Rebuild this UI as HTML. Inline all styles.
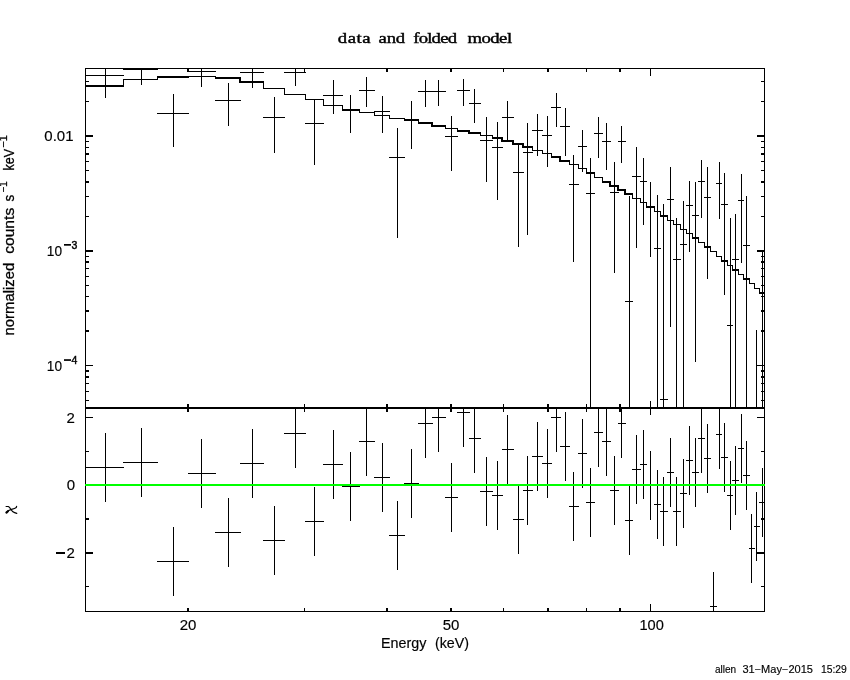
<!DOCTYPE html>
<html><head><meta charset="utf-8"><title>data and folded model</title>
<style>
html,body{margin:0;padding:0;background:#fff;}
body{width:850px;height:680px;overflow:hidden;position:relative;font-family:"Liberation Sans",sans-serif;color:#000;}
svg{position:absolute;left:0;top:0;}
.t{position:absolute;white-space:pre;line-height:1;}
</style></head><body>
<svg width="850" height="680" viewBox="0 0 850 680" shape-rendering="crispEdges"><rect x="85" y="85" width="39" height="2" fill="#000"/><rect x="123" y="79" width="1" height="8" fill="#000"/><rect x="123" y="79" width="35" height="1" fill="#000"/><rect x="157" y="76" width="1" height="4" fill="#000"/><rect x="157" y="76" width="32" height="2" fill="#000"/><rect x="188" y="76" width="1" height="2" fill="#000"/><rect x="188" y="76" width="28" height="1" fill="#000"/><rect x="215" y="76" width="1" height="3" fill="#000"/><rect x="215" y="77" width="26" height="2" fill="#000"/><rect x="239" y="77" width="2" height="6" fill="#000"/><rect x="240" y="81" width="24" height="2" fill="#000"/><rect x="263" y="81" width="1" height="8" fill="#000"/><rect x="263" y="88" width="22" height="1" fill="#000"/><rect x="284" y="88" width="1" height="7" fill="#000"/><rect x="284" y="94" width="22" height="1" fill="#000"/><rect x="305" y="94" width="1" height="6" fill="#000"/><rect x="305" y="99" width="19" height="1" fill="#000"/><rect x="323" y="99" width="1" height="7" fill="#000"/><rect x="323" y="105" width="20" height="1" fill="#000"/><rect x="342" y="105" width="1" height="5" fill="#000"/><rect x="342" y="109" width="18" height="1" fill="#000"/><rect x="359" y="109" width="1" height="4" fill="#000"/><rect x="359" y="112" width="16" height="1" fill="#000"/><rect x="374" y="112" width="1" height="4" fill="#000"/><rect x="374" y="115" width="16" height="1" fill="#000"/><rect x="389" y="115" width="1" height="4" fill="#000"/><rect x="389" y="118" width="16" height="1" fill="#000"/><rect x="404" y="118" width="1" height="3" fill="#000"/><rect x="404" y="120" width="15" height="1" fill="#000"/><rect x="418" y="120" width="1" height="4" fill="#000"/><rect x="418" y="122" width="15" height="2" fill="#000"/><rect x="431" y="122" width="2" height="5" fill="#000"/><rect x="432" y="125" width="14" height="2" fill="#000"/><rect x="445" y="125" width="1" height="4" fill="#000"/><rect x="445" y="128" width="13" height="1" fill="#000"/><rect x="457" y="128" width="1" height="4" fill="#000"/><rect x="457" y="130" width="13" height="2" fill="#000"/><rect x="468" y="130" width="2" height="4" fill="#000"/><rect x="469" y="132" width="12" height="2" fill="#000"/><rect x="480" y="132" width="1" height="4" fill="#000"/><rect x="480" y="135" width="13" height="1" fill="#000"/><rect x="492" y="135" width="1" height="4" fill="#000"/><rect x="492" y="137" width="11" height="2" fill="#000"/><rect x="501" y="137" width="2" height="5" fill="#000"/><rect x="502" y="140" width="12" height="2" fill="#000"/><rect x="512" y="140" width="2" height="5" fill="#000"/><rect x="513" y="143" width="11" height="2" fill="#000"/><rect x="522" y="143" width="2" height="5" fill="#000"/><rect x="523" y="146" width="10" height="2" fill="#000"/><rect x="532" y="146" width="1" height="5" fill="#000"/><rect x="532" y="150" width="11" height="1" fill="#000"/><rect x="542" y="150" width="1" height="4" fill="#000"/><rect x="542" y="153" width="10" height="1" fill="#000"/><rect x="551" y="153" width="1" height="5" fill="#000"/><rect x="551" y="156" width="10" height="2" fill="#000"/><rect x="559" y="156" width="2" height="6" fill="#000"/><rect x="560" y="160" width="10" height="2" fill="#000"/><rect x="569" y="160" width="1" height="5" fill="#000"/><rect x="569" y="164" width="10" height="1" fill="#000"/><rect x="578" y="164" width="1" height="5" fill="#000"/><rect x="578" y="168" width="9" height="1" fill="#000"/><rect x="586" y="168" width="1" height="6" fill="#000"/><rect x="586" y="172" width="9" height="2" fill="#000"/><rect x="594" y="172" width="1" height="6" fill="#000"/><rect x="594" y="177" width="9" height="1" fill="#000"/><rect x="602" y="177" width="1" height="6" fill="#000"/><rect x="602" y="181" width="9" height="2" fill="#000"/><rect x="609" y="181" width="2" height="6" fill="#000"/><rect x="610" y="185" width="9" height="2" fill="#000"/><rect x="617" y="185" width="2" height="6" fill="#000"/><rect x="618" y="189" width="8" height="2" fill="#000"/><rect x="624" y="189" width="2" height="6" fill="#000"/><rect x="625" y="193" width="8" height="2" fill="#000"/><rect x="632" y="193" width="1" height="6" fill="#000"/><rect x="632" y="198" width="9" height="1" fill="#000"/><rect x="640" y="198" width="1" height="5" fill="#000"/><rect x="640" y="202" width="7" height="1" fill="#000"/><rect x="646" y="202" width="1" height="6" fill="#000"/><rect x="646" y="206" width="9" height="2" fill="#000"/><rect x="654" y="206" width="1" height="6" fill="#000"/><rect x="654" y="211" width="7" height="1" fill="#000"/><rect x="660" y="211" width="1" height="6" fill="#000"/><rect x="660" y="215" width="8" height="2" fill="#000"/><rect x="667" y="215" width="1" height="6" fill="#000"/><rect x="667" y="220" width="7" height="1" fill="#000"/><rect x="673" y="220" width="1" height="5" fill="#000"/><rect x="673" y="224" width="8" height="1" fill="#000"/><rect x="680" y="224" width="1" height="6" fill="#000"/><rect x="680" y="229" width="7" height="1" fill="#000"/><rect x="686" y="229" width="1" height="5" fill="#000"/><rect x="686" y="233" width="7" height="1" fill="#000"/><rect x="692" y="233" width="1" height="6" fill="#000"/><rect x="692" y="237" width="7" height="2" fill="#000"/><rect x="698" y="237" width="1" height="6" fill="#000"/><rect x="698" y="242" width="7" height="1" fill="#000"/><rect x="704" y="242" width="1" height="6" fill="#000"/><rect x="704" y="246" width="7" height="2" fill="#000"/><rect x="710" y="246" width="1" height="6" fill="#000"/><rect x="710" y="251" width="7" height="1" fill="#000"/><rect x="716" y="251" width="1" height="6" fill="#000"/><rect x="716" y="256" width="6" height="1" fill="#000"/><rect x="721" y="256" width="1" height="6" fill="#000"/><rect x="721" y="260" width="7" height="2" fill="#000"/><rect x="727" y="260" width="1" height="6" fill="#000"/><rect x="727" y="265" width="6" height="1" fill="#000"/><rect x="732" y="265" width="1" height="6" fill="#000"/><rect x="732" y="269" width="7" height="2" fill="#000"/><rect x="738" y="269" width="1" height="6" fill="#000"/><rect x="738" y="274" width="6" height="1" fill="#000"/><rect x="743" y="274" width="1" height="6" fill="#000"/><rect x="743" y="278" width="7" height="2" fill="#000"/><rect x="749" y="278" width="1" height="6" fill="#000"/><rect x="749" y="283" width="6" height="1" fill="#000"/><rect x="754" y="283" width="1" height="6" fill="#000"/><rect x="754" y="288" width="6" height="1" fill="#000"/><rect x="759" y="288" width="1" height="6" fill="#000"/><rect x="759" y="292" width="6" height="2" fill="#000"/><rect x="85" y="75" width="39" height="1" fill="#000"/><rect x="105" y="68" width="1" height="30" fill="#000"/><rect x="123" y="69" width="35" height="1" fill="#000"/><rect x="141" y="68" width="1" height="17" fill="#000"/><rect x="157" y="113" width="32" height="1" fill="#000"/><rect x="173" y="94" width="1" height="53" fill="#000"/><rect x="188" y="71" width="28" height="1" fill="#000"/><rect x="201" y="68" width="1" height="19" fill="#000"/><rect x="215" y="100" width="26" height="1" fill="#000"/><rect x="228" y="83" width="1" height="43" fill="#000"/><rect x="240" y="72" width="24" height="1" fill="#000"/><rect x="252" y="68" width="1" height="20" fill="#000"/><rect x="263" y="117" width="22" height="1" fill="#000"/><rect x="274" y="97" width="1" height="56" fill="#000"/><rect x="284" y="72" width="22" height="1" fill="#000"/><rect x="295" y="68" width="1" height="18" fill="#000"/><rect x="305" y="123" width="19" height="1" fill="#000"/><rect x="314" y="99" width="1" height="66" fill="#000"/><rect x="323" y="95" width="20" height="1" fill="#000"/><rect x="333" y="80" width="1" height="34" fill="#000"/><rect x="342" y="110" width="18" height="1" fill="#000"/><rect x="350" y="95" width="1" height="38" fill="#000"/><rect x="359" y="90" width="16" height="1" fill="#000"/><rect x="366" y="77" width="1" height="30" fill="#000"/><rect x="374" y="111" width="16" height="1" fill="#000"/><rect x="382" y="96" width="1" height="37" fill="#000"/><rect x="389" y="157" width="16" height="1" fill="#000"/><rect x="397" y="128" width="1" height="110" fill="#000"/><rect x="404" y="119" width="15" height="1" fill="#000"/><rect x="411" y="101" width="1" height="48" fill="#000"/><rect x="418" y="91" width="15" height="1" fill="#000"/><rect x="425" y="80" width="1" height="27" fill="#000"/><rect x="432" y="91" width="14" height="1" fill="#000"/><rect x="438" y="80" width="1" height="26" fill="#000"/><rect x="445" y="136" width="13" height="1" fill="#000"/><rect x="451" y="116" width="1" height="55" fill="#000"/><rect x="457" y="90" width="13" height="1" fill="#000"/><rect x="463" y="79" width="1" height="27" fill="#000"/><rect x="469" y="103" width="12" height="1" fill="#000"/><rect x="474" y="89" width="1" height="34" fill="#000"/><rect x="480" y="140" width="13" height="1" fill="#000"/><rect x="486" y="117" width="1" height="65" fill="#000"/><rect x="492" y="147" width="11" height="1" fill="#000"/><rect x="497" y="122" width="1" height="78" fill="#000"/><rect x="502" y="117" width="12" height="1" fill="#000"/><rect x="507" y="101" width="1" height="40" fill="#000"/><rect x="513" y="172" width="11" height="1" fill="#000"/><rect x="518" y="144" width="1" height="103" fill="#000"/><rect x="523" y="152" width="10" height="1" fill="#000"/><rect x="527" y="123" width="1" height="112" fill="#000"/><rect x="532" y="130" width="11" height="1" fill="#000"/><rect x="537" y="114" width="1" height="42" fill="#000"/><rect x="542" y="135" width="10" height="1" fill="#000"/><rect x="547" y="116" width="1" height="51" fill="#000"/><rect x="551" y="107" width="10" height="1" fill="#000"/><rect x="556" y="93" width="1" height="34" fill="#000"/><rect x="560" y="126" width="10" height="1" fill="#000"/><rect x="565" y="108" width="1" height="48" fill="#000"/><rect x="569" y="184" width="10" height="1" fill="#000"/><rect x="573" y="155" width="1" height="107" fill="#000"/><rect x="578" y="146" width="9" height="1" fill="#000"/><rect x="582" y="130" width="1" height="42" fill="#000"/><rect x="586" y="193" width="9" height="1" fill="#000"/><rect x="590" y="158" width="1" height="249" fill="#000"/><rect x="594" y="133" width="9" height="1" fill="#000"/><rect x="598" y="117" width="1" height="41" fill="#000"/><rect x="602" y="141" width="9" height="1" fill="#000"/><rect x="606" y="123" width="1" height="47" fill="#000"/><rect x="610" y="192" width="9" height="1" fill="#000"/><rect x="614" y="162" width="1" height="111" fill="#000"/><rect x="618" y="141" width="8" height="1" fill="#000"/><rect x="621" y="126" width="1" height="37" fill="#000"/><rect x="625" y="301" width="8" height="1" fill="#000"/><rect x="629" y="196" width="1" height="211" fill="#000"/><rect x="632" y="176" width="9" height="1" fill="#000"/><rect x="636" y="147" width="1" height="101" fill="#000"/><rect x="640" y="181" width="7" height="1" fill="#000"/><rect x="643" y="158" width="1" height="67" fill="#000"/><rect x="646" y="207" width="9" height="1" fill="#000"/><rect x="650" y="182" width="1" height="75" fill="#000"/><rect x="654" y="248" width="7" height="1" fill="#000"/><rect x="657" y="195" width="1" height="212" fill="#000"/><rect x="660" y="399" width="8" height="1" fill="#000"/><rect x="663" y="204" width="1" height="203" fill="#000"/><rect x="667" y="199" width="7" height="1" fill="#000"/><rect x="670" y="167" width="1" height="160" fill="#000"/><rect x="673" y="259" width="8" height="1" fill="#000"/><rect x="676" y="218" width="1" height="189" fill="#000"/><rect x="680" y="244" width="7" height="1" fill="#000"/><rect x="683" y="201" width="1" height="206" fill="#000"/><rect x="686" y="205" width="7" height="1" fill="#000"/><rect x="689" y="181" width="1" height="71" fill="#000"/><rect x="692" y="215" width="7" height="1" fill="#000"/><rect x="695" y="182" width="1" height="180" fill="#000"/><rect x="698" y="181" width="7" height="1" fill="#000"/><rect x="701" y="160" width="1" height="58" fill="#000"/><rect x="704" y="197" width="7" height="1" fill="#000"/><rect x="707" y="167" width="1" height="112" fill="#000"/><rect x="716" y="183" width="6" height="1" fill="#000"/><rect x="719" y="162" width="1" height="57" fill="#000"/><rect x="721" y="204" width="7" height="1" fill="#000"/><rect x="724" y="173" width="1" height="122" fill="#000"/><rect x="727" y="325" width="6" height="1" fill="#000"/><rect x="730" y="218" width="1" height="189" fill="#000"/><rect x="732" y="259" width="7" height="1" fill="#000"/><rect x="735" y="214" width="1" height="193" fill="#000"/><rect x="738" y="200" width="6" height="1" fill="#000"/><rect x="741" y="174" width="1" height="89" fill="#000"/><rect x="743" y="245" width="7" height="1" fill="#000"/><rect x="746" y="196" width="1" height="211" fill="#000"/><rect x="756" y="330" width="1" height="77" fill="#000"/><rect x="762" y="250" width="1" height="157" fill="#000"/><rect x="85" y="467" width="39" height="1" fill="#000"/><rect x="105" y="433" width="1" height="69" fill="#000"/><rect x="123" y="462" width="35" height="1" fill="#000"/><rect x="141" y="428" width="1" height="69" fill="#000"/><rect x="157" y="561" width="32" height="1" fill="#000"/><rect x="173" y="527" width="1" height="69" fill="#000"/><rect x="188" y="473" width="28" height="1" fill="#000"/><rect x="201" y="439" width="1" height="69" fill="#000"/><rect x="215" y="532" width="26" height="1" fill="#000"/><rect x="228" y="498" width="1" height="69" fill="#000"/><rect x="240" y="463" width="24" height="1" fill="#000"/><rect x="252" y="429" width="1" height="69" fill="#000"/><rect x="263" y="540" width="22" height="1" fill="#000"/><rect x="274" y="506" width="1" height="69" fill="#000"/><rect x="284" y="433" width="22" height="1" fill="#000"/><rect x="295" y="409" width="1" height="59" fill="#000"/><rect x="305" y="521" width="19" height="1" fill="#000"/><rect x="314" y="487" width="1" height="69" fill="#000"/><rect x="323" y="464" width="20" height="1" fill="#000"/><rect x="333" y="430" width="1" height="69" fill="#000"/><rect x="342" y="486" width="18" height="1" fill="#000"/><rect x="350" y="452" width="1" height="69" fill="#000"/><rect x="359" y="441" width="16" height="1" fill="#000"/><rect x="366" y="409" width="1" height="67" fill="#000"/><rect x="374" y="477" width="16" height="1" fill="#000"/><rect x="382" y="443" width="1" height="69" fill="#000"/><rect x="389" y="535" width="16" height="1" fill="#000"/><rect x="397" y="501" width="1" height="69" fill="#000"/><rect x="404" y="483" width="15" height="1" fill="#000"/><rect x="411" y="449" width="1" height="69" fill="#000"/><rect x="418" y="423" width="15" height="1" fill="#000"/><rect x="425" y="409" width="1" height="49" fill="#000"/><rect x="432" y="417" width="14" height="1" fill="#000"/><rect x="438" y="409" width="1" height="43" fill="#000"/><rect x="445" y="497" width="13" height="1" fill="#000"/><rect x="451" y="463" width="1" height="69" fill="#000"/><rect x="457" y="412" width="13" height="1" fill="#000"/><rect x="463" y="409" width="1" height="38" fill="#000"/><rect x="469" y="438" width="12" height="1" fill="#000"/><rect x="474" y="409" width="1" height="64" fill="#000"/><rect x="480" y="491" width="13" height="1" fill="#000"/><rect x="486" y="457" width="1" height="69" fill="#000"/><rect x="492" y="495" width="11" height="1" fill="#000"/><rect x="497" y="461" width="1" height="69" fill="#000"/><rect x="502" y="449" width="12" height="1" fill="#000"/><rect x="507" y="415" width="1" height="69" fill="#000"/><rect x="513" y="519" width="11" height="1" fill="#000"/><rect x="518" y="485" width="1" height="69" fill="#000"/><rect x="523" y="490" width="10" height="1" fill="#000"/><rect x="527" y="456" width="1" height="69" fill="#000"/><rect x="532" y="456" width="11" height="1" fill="#000"/><rect x="537" y="422" width="1" height="69" fill="#000"/><rect x="542" y="463" width="10" height="1" fill="#000"/><rect x="547" y="429" width="1" height="69" fill="#000"/><rect x="551" y="417" width="10" height="1" fill="#000"/><rect x="556" y="409" width="1" height="43" fill="#000"/><rect x="560" y="446" width="10" height="1" fill="#000"/><rect x="565" y="412" width="1" height="69" fill="#000"/><rect x="569" y="506" width="10" height="1" fill="#000"/><rect x="573" y="472" width="1" height="69" fill="#000"/><rect x="578" y="453" width="9" height="1" fill="#000"/><rect x="582" y="419" width="1" height="69" fill="#000"/><rect x="586" y="502" width="9" height="1" fill="#000"/><rect x="590" y="468" width="1" height="69" fill="#000"/><rect x="594" y="432" width="9" height="1" fill="#000"/><rect x="598" y="409" width="1" height="58" fill="#000"/><rect x="602" y="441" width="9" height="1" fill="#000"/><rect x="606" y="409" width="1" height="67" fill="#000"/><rect x="610" y="490" width="9" height="1" fill="#000"/><rect x="614" y="456" width="1" height="69" fill="#000"/><rect x="618" y="423" width="8" height="1" fill="#000"/><rect x="621" y="409" width="1" height="49" fill="#000"/><rect x="625" y="520" width="8" height="1" fill="#000"/><rect x="629" y="486" width="1" height="69" fill="#000"/><rect x="632" y="469" width="9" height="1" fill="#000"/><rect x="636" y="435" width="1" height="69" fill="#000"/><rect x="640" y="464" width="7" height="1" fill="#000"/><rect x="643" y="430" width="1" height="69" fill="#000"/><rect x="646" y="485" width="9" height="1" fill="#000"/><rect x="650" y="451" width="1" height="69" fill="#000"/><rect x="654" y="504" width="7" height="1" fill="#000"/><rect x="657" y="470" width="1" height="69" fill="#000"/><rect x="660" y="511" width="8" height="1" fill="#000"/><rect x="663" y="477" width="1" height="69" fill="#000"/><rect x="667" y="472" width="7" height="1" fill="#000"/><rect x="670" y="438" width="1" height="69" fill="#000"/><rect x="673" y="511" width="8" height="1" fill="#000"/><rect x="676" y="477" width="1" height="69" fill="#000"/><rect x="680" y="493" width="7" height="1" fill="#000"/><rect x="683" y="459" width="1" height="69" fill="#000"/><rect x="686" y="460" width="7" height="1" fill="#000"/><rect x="689" y="426" width="1" height="69" fill="#000"/><rect x="692" y="472" width="7" height="1" fill="#000"/><rect x="695" y="438" width="1" height="69" fill="#000"/><rect x="698" y="438" width="7" height="1" fill="#000"/><rect x="701" y="409" width="1" height="64" fill="#000"/><rect x="704" y="458" width="7" height="1" fill="#000"/><rect x="707" y="424" width="1" height="69" fill="#000"/><rect x="710" y="606" width="7" height="1" fill="#000"/><rect x="713" y="572" width="1" height="39" fill="#000"/><rect x="716" y="434" width="6" height="1" fill="#000"/><rect x="719" y="409" width="1" height="60" fill="#000"/><rect x="721" y="457" width="7" height="1" fill="#000"/><rect x="724" y="423" width="1" height="69" fill="#000"/><rect x="727" y="495" width="6" height="1" fill="#000"/><rect x="730" y="461" width="1" height="69" fill="#000"/><rect x="732" y="480" width="7" height="1" fill="#000"/><rect x="735" y="446" width="1" height="69" fill="#000"/><rect x="738" y="448" width="6" height="1" fill="#000"/><rect x="741" y="414" width="1" height="69" fill="#000"/><rect x="743" y="475" width="7" height="1" fill="#000"/><rect x="746" y="441" width="1" height="69" fill="#000"/><rect x="749" y="548" width="6" height="1" fill="#000"/><rect x="751" y="514" width="1" height="69" fill="#000"/><rect x="754" y="526" width="6" height="1" fill="#000"/><rect x="756" y="492" width="1" height="69" fill="#000"/><rect x="759" y="502" width="6" height="1" fill="#000"/><rect x="762" y="468" width="1" height="69" fill="#000"/><rect x="85" y="68" width="680" height="1" fill="#000"/><rect x="85" y="407" width="680" height="2" fill="#000"/><rect x="85" y="611" width="680" height="1" fill="#000"/><rect x="85" y="68" width="1" height="544" fill="#000"/><rect x="764" y="68" width="1" height="544" fill="#000"/><rect x="187" y="68" width="2" height="4" fill="#000"/><rect x="187" y="404" width="2" height="8" fill="#000"/><rect x="187" y="608" width="2" height="4" fill="#000"/><rect x="304" y="68" width="1" height="4" fill="#000"/><rect x="304" y="404" width="1" height="8" fill="#000"/><rect x="304" y="608" width="1" height="4" fill="#000"/><rect x="386" y="68" width="2" height="4" fill="#000"/><rect x="386" y="404" width="2" height="8" fill="#000"/><rect x="386" y="608" width="2" height="4" fill="#000"/><rect x="450" y="68" width="2" height="4" fill="#000"/><rect x="450" y="404" width="2" height="8" fill="#000"/><rect x="450" y="608" width="2" height="4" fill="#000"/><rect x="503" y="68" width="1" height="4" fill="#000"/><rect x="503" y="404" width="1" height="8" fill="#000"/><rect x="503" y="608" width="1" height="4" fill="#000"/><rect x="547" y="68" width="2" height="4" fill="#000"/><rect x="547" y="404" width="2" height="8" fill="#000"/><rect x="547" y="608" width="2" height="4" fill="#000"/><rect x="586" y="68" width="1" height="4" fill="#000"/><rect x="586" y="404" width="1" height="8" fill="#000"/><rect x="586" y="608" width="1" height="4" fill="#000"/><rect x="619" y="68" width="2" height="4" fill="#000"/><rect x="619" y="404" width="2" height="8" fill="#000"/><rect x="619" y="608" width="2" height="4" fill="#000"/><rect x="650" y="68" width="1" height="8" fill="#000"/><rect x="650" y="401" width="1" height="14" fill="#000"/><rect x="650" y="604" width="1" height="8" fill="#000"/><rect x="85" y="81" width="4" height="1" fill="#000"/><rect x="761" y="81" width="4" height="1" fill="#000"/><rect x="85" y="101" width="4" height="1" fill="#000"/><rect x="761" y="101" width="4" height="1" fill="#000"/><rect x="85" y="135" width="8" height="2" fill="#000"/><rect x="757" y="135" width="8" height="2" fill="#000"/><rect x="85" y="141" width="4" height="1" fill="#000"/><rect x="761" y="141" width="4" height="1" fill="#000"/><rect x="85" y="147" width="4" height="1" fill="#000"/><rect x="761" y="147" width="4" height="1" fill="#000"/><rect x="85" y="153" width="4" height="2" fill="#000"/><rect x="761" y="153" width="4" height="2" fill="#000"/><rect x="85" y="161" width="4" height="1" fill="#000"/><rect x="761" y="161" width="4" height="1" fill="#000"/><rect x="85" y="170" width="4" height="1" fill="#000"/><rect x="761" y="170" width="4" height="1" fill="#000"/><rect x="85" y="181" width="4" height="2" fill="#000"/><rect x="761" y="181" width="4" height="2" fill="#000"/><rect x="85" y="196" width="4" height="1" fill="#000"/><rect x="761" y="196" width="4" height="1" fill="#000"/><rect x="85" y="216" width="4" height="1" fill="#000"/><rect x="761" y="216" width="4" height="1" fill="#000"/><rect x="85" y="250" width="8" height="2" fill="#000"/><rect x="757" y="250" width="8" height="2" fill="#000"/><rect x="85" y="256" width="4" height="1" fill="#000"/><rect x="761" y="256" width="4" height="1" fill="#000"/><rect x="85" y="261" width="4" height="2" fill="#000"/><rect x="761" y="261" width="4" height="2" fill="#000"/><rect x="85" y="268" width="4" height="1" fill="#000"/><rect x="761" y="268" width="4" height="1" fill="#000"/><rect x="85" y="276" width="4" height="1" fill="#000"/><rect x="761" y="276" width="4" height="1" fill="#000"/><rect x="85" y="285" width="4" height="1" fill="#000"/><rect x="761" y="285" width="4" height="1" fill="#000"/><rect x="85" y="296" width="4" height="1" fill="#000"/><rect x="761" y="296" width="4" height="1" fill="#000"/><rect x="85" y="310" width="4" height="2" fill="#000"/><rect x="761" y="310" width="4" height="2" fill="#000"/><rect x="85" y="330" width="4" height="2" fill="#000"/><rect x="761" y="330" width="4" height="2" fill="#000"/><rect x="85" y="365" width="8" height="1" fill="#000"/><rect x="757" y="365" width="8" height="1" fill="#000"/><rect x="85" y="370" width="4" height="2" fill="#000"/><rect x="761" y="370" width="4" height="2" fill="#000"/><rect x="85" y="376" width="4" height="2" fill="#000"/><rect x="761" y="376" width="4" height="2" fill="#000"/><rect x="85" y="383" width="4" height="1" fill="#000"/><rect x="761" y="383" width="4" height="1" fill="#000"/><rect x="85" y="391" width="4" height="1" fill="#000"/><rect x="761" y="391" width="4" height="1" fill="#000"/><rect x="85" y="400" width="4" height="1" fill="#000"/><rect x="761" y="400" width="4" height="1" fill="#000"/><rect x="85" y="417" width="8" height="1" fill="#000"/><rect x="757" y="417" width="8" height="1" fill="#000"/><rect x="85" y="451" width="4" height="1" fill="#000"/><rect x="761" y="451" width="4" height="1" fill="#000"/><rect x="85" y="518" width="4" height="2" fill="#000"/><rect x="761" y="518" width="4" height="2" fill="#000"/><rect x="85" y="552" width="8" height="2" fill="#000"/><rect x="757" y="552" width="8" height="2" fill="#000"/><rect x="85" y="586" width="4" height="1" fill="#000"/><rect x="761" y="586" width="4" height="1" fill="#000"/><rect x="85" y="484" width="680" height="2" fill="#00ff00"/></svg>
<svg width="850" height="680" viewBox="0 0 850 680" style="will-change:transform;opacity:0.999"><text transform="translate(337.8,42.6) scale(1.3,1)" font-family="Liberation Serif" font-size="14.4" textLength="25.23" lengthAdjust="spacing" stroke="#000" stroke-width="0.4">data</text><text transform="translate(378.5,42.6) scale(1.3,1)" font-family="Liberation Serif" font-size="14.4" textLength="20.54" lengthAdjust="spacing" stroke="#000" stroke-width="0.4">and</text><text transform="translate(413.3,42.6) scale(1.3,1)" font-family="Liberation Serif" font-size="14.4" textLength="33.62" lengthAdjust="spacing" stroke="#000" stroke-width="0.4">folded</text><text transform="translate(467.4,42.6) scale(1.3,1)" font-family="Liberation Serif" font-size="14.4" textLength="34.38" lengthAdjust="spacing" stroke="#000" stroke-width="0.4">model</text><text x="188" y="629.5" font-family="Liberation Sans" font-size="15" text-anchor="middle" stroke="#000" stroke-width="0.18">20</text><text x="451" y="629.5" font-family="Liberation Sans" font-size="15" text-anchor="middle" stroke="#000" stroke-width="0.18">50</text><text x="639.4" y="629.5" font-family="Liberation Sans" font-size="15" text-anchor="start" textLength="24.4" lengthAdjust="spacingAndGlyphs" stroke="#000" stroke-width="0.18">100</text><text x="381" y="647.8" font-family="Liberation Sans" font-size="15" text-anchor="start" textLength="45.4" lengthAdjust="spacingAndGlyphs" stroke="#000" stroke-width="0.18">Energy</text><text x="435" y="647.8" font-family="Liberation Sans" font-size="15" text-anchor="start" textLength="34" lengthAdjust="spacingAndGlyphs" stroke="#000" stroke-width="0.18">(keV)</text><text x="73.5" y="141" font-family="Liberation Sans" font-size="15" text-anchor="end" stroke="#000" stroke-width="0.18">0.01</text><text x="46.8" y="255.6" font-family="Liberation Sans" font-size="15" text-anchor="start" textLength="15.2" lengthAdjust="spacingAndGlyphs" stroke="#000" stroke-width="0.18">10</text><rect x="64" y="244.0" width="7" height="1.7" fill="#000"/><text x="71.6" y="248.6" font-family="Liberation Sans" font-size="10.5" text-anchor="start" stroke="#000" stroke-width="0.45">3</text><text x="46.8" y="370.8" font-family="Liberation Sans" font-size="15" text-anchor="start" textLength="15.2" lengthAdjust="spacingAndGlyphs" stroke="#000" stroke-width="0.18">10</text><rect x="64" y="359.2" width="7" height="1.7" fill="#000"/><text x="71.6" y="363.8" font-family="Liberation Sans" font-size="10.5" text-anchor="start" stroke="#000" stroke-width="0.45">4</text><text x="74.8" y="423" font-family="Liberation Sans" font-size="15" text-anchor="end" stroke="#000" stroke-width="0.18">2</text><text x="75.2" y="490.2" font-family="Liberation Sans" font-size="15" text-anchor="end" stroke="#000" stroke-width="0.18">0</text><text x="74.8" y="558" font-family="Liberation Sans" font-size="15" text-anchor="end" stroke="#000" stroke-width="0.18">2</text><rect x="56" y="552" width="9" height="2" fill="#000"/><text transform="translate(13.9,335.4) rotate(-90)" font-family="Liberation Sans" font-size="15" textLength="72.6" lengthAdjust="spacingAndGlyphs" stroke="#000" stroke-width="0.3">normalized</text><text transform="translate(13.9,253.8) rotate(-90)" font-family="Liberation Sans" font-size="15" textLength="46" lengthAdjust="spacingAndGlyphs" stroke="#000" stroke-width="0.3">counts</text><text transform="translate(13.9,201.4) rotate(-90)" font-family="Liberation Sans" font-size="15" textLength="6.7" lengthAdjust="spacingAndGlyphs" stroke="#000" stroke-width="0.3">s</text><text transform="translate(6.9,192.5) rotate(-90)" font-family="Liberation Sans" font-size="10.5" textLength="11" lengthAdjust="spacingAndGlyphs" stroke="#000" stroke-width="0.3">−1</text><text transform="translate(13.9,170.6) rotate(-90)" font-family="Liberation Sans" font-size="15" textLength="21.6" lengthAdjust="spacingAndGlyphs" stroke="#000" stroke-width="0.3">keV</text><text transform="translate(6.9,147.7) rotate(-90)" font-family="Liberation Sans" font-size="10.5" textLength="12.5" lengthAdjust="spacingAndGlyphs" stroke="#000" stroke-width="0.3">−1</text><g fill="none" stroke="#000" stroke-width="1.2" stroke-linecap="round"><path d="M6.1,506.5 L8.3,506.5 Q9.6,507.2 10.6,509 Q12,511.6 14.6,512.6 L16.8,513.4"/><path d="M16.6,506.3 L16.3,507.5 Q15,508.4 11.5,509.4 Q8.2,510.4 6.8,512.2"/><path d="M6.4,512.6 L7.9,511.2" stroke-width="2.2"/></g><text x="715" y="673" font-family="Liberation Sans" font-size="10" text-anchor="start" textLength="21.2" lengthAdjust="spacingAndGlyphs" stroke="#000" stroke-width="0.15">allen</text><text x="742.4" y="673" font-family="Liberation Sans" font-size="10" text-anchor="start" textLength="70.6" lengthAdjust="spacingAndGlyphs" stroke="#000" stroke-width="0.15">31−May−2015</text><text x="820.9" y="673" font-family="Liberation Sans" font-size="10" text-anchor="start" textLength="25.9" lengthAdjust="spacingAndGlyphs" stroke="#000" stroke-width="0.15">15:29</text></svg>
</body></html>
